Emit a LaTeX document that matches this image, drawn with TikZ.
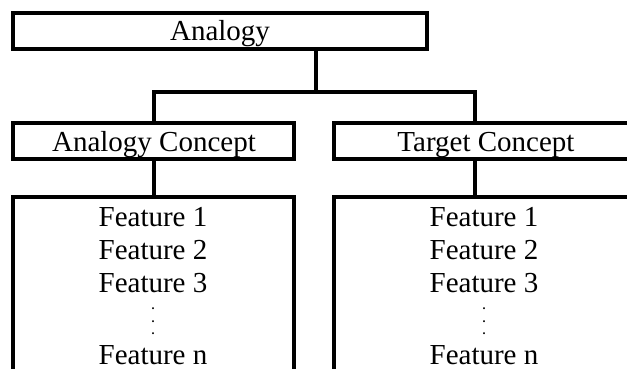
\documentclass[tikz,border=0pt]{standalone}
\usepackage{fontspec}
\setmainfont{Liberation Serif}
\begin{document}
\begin{tikzpicture}[x=1pt,y=-1pt,
  box/.style={draw, line width=4pt, inner sep=0pt},
  conn/.style={line width=4pt},
  lbl/.style={font=\fontsize{29}{32}\selectfont, inner sep=0pt, anchor=base},
  dotc/.style={font=\fontsize{12}{12}\selectfont\bfseries, inner sep=0pt, anchor=center}]
\useasboundingbox (0,0) rectangle (627,369);
% boxes
\node[box, minimum width=414pt, minimum height=36pt] (top) at (220,31) {};
\node[box, minimum width=281pt, minimum height=36pt] (ac) at (153.5,141) {};
\node[box, minimum width=309pt, minimum height=36pt] (tc) at (488.5,141) {};
\node[box, minimum width=281pt, minimum height=201pt] (af) at (153.5,297.5) {};
\node[box, minimum width=309pt, minimum height=201pt] (tf) at (488.5,297.5) {};
% labels
\node[lbl] (ltop) at (220,41) {Analogy};
\node[lbl] (lac) at (154,151) {Analogy Concept};
\node[lbl] (ltc) at (486,151) {Target Concept};
\node[lbl] (a1) at (153,226) {Feature 1};
\node[lbl] (a2) at (153,259) {Feature 2};
\node[lbl] (a3) at (153,292) {Feature 3};
\node[dotc] (ad1) at (153,309) {.};
\node[dotc] (ad2) at (153,322) {.};
\node[dotc] (ad3) at (153,334) {.};
\node[lbl] (an) at (153,364) {Feature n};
\node[lbl] (t1) at (484,226) {Feature 1};
\node[lbl] (t2) at (484,259) {Feature 2};
\node[lbl] (t3) at (484,292) {Feature 3};
\node[dotc] (td1) at (484,309) {.};
\node[dotc] (td2) at (484,322) {.};
\node[dotc] (td3) at (484,334) {.};
\node[lbl] (tn) at (484,364) {Feature n};
% connectors
\coordinate (tj) at (316,92);
\coordinate (rj) at (475,92);
\draw[conn] (tj |- top.south) -- (tj);
\draw[conn] (ac.north) |- (rj) -- (rj |- tc.north);
\draw[conn] (ac.south) -- (af.north);
\draw[conn] (rj |- tc.south) -- (rj |- tf.north);
\end{tikzpicture}
\end{document}
